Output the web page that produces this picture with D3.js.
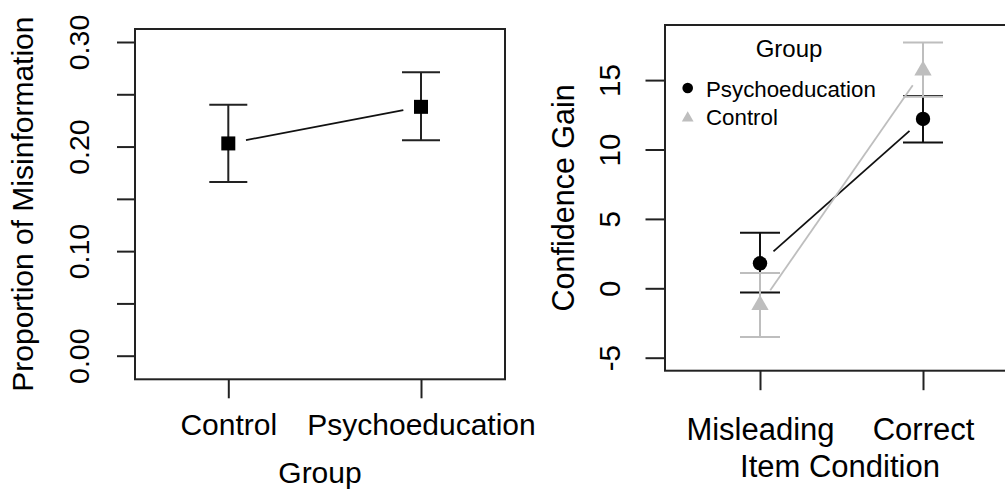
<!DOCTYPE html>
<html>
<head>
<meta charset="utf-8">
<script src="https://cdn.jsdelivr.net/npm/d3@7"></script>
<style>
  html, body { margin: 0; padding: 0; background: #fff; }
  svg { display: block; font-family: "Liberation Sans", Arial, Helvetica, sans-serif; }
  .axis path.domain { display: none; }
  .axis line { stroke: #222; stroke-width: 2; }
  .axis text { fill: #000; }
</style>
</head>
<body>
<svg id="chart" width="1005" height="489"></svg>
<script>
'use strict';

// left panel: proportion of misinformation by group
const groups = ['Control', 'Psychoeducation'];
const misinfoMean = [0.203, 0.238];
const misinfoLower = [0.166, 0.206];
const misinfoUpper = [0.240, 0.271];
const misinfoTicks = [0, 0.05, 0.10, 0.15, 0.20, 0.25, 0.30];
const misinfoTickLabels = ['0.00', '', '0.10', '', '0.20', '', '0.30'];

// right panel: confidence gain by item condition
const conditions = ['Misleading', 'Correct'];
const legendGroups = ['Psychoeducation', 'Control'];
const psychMean = [1.8, 12.2];
const psychLower = [-0.3, 10.5];
const psychUpper = [4.0, 13.85];
const controlMean = [-1.2, 15.7];
const controlLower = [-3.5, 13.8];
const controlUpper = [1.1, 17.7];
const gainTicks = [-5, 0, 5, 10, 15];

const GREY = '#bebebe';
const svg = d3.select('#chart');

function triangle(r) {
  const h = r * Math.sqrt(3) / 2;
  return `M0,${-r}L${h},${r / 2}L${-h},${r / 2}Z`;
}

// shorten a segment by `gap` px at each end (R type = "b")
function gapped(x1, y1, x2, y2, gap) {
  const dx = x2 - x1, dy = y2 - y1;
  const len = Math.sqrt(dx * dx + dy * dy);
  const ux = dx / len, uy = dy / len;
  return [x1 + ux * gap, y1 + uy * gap, x2 - ux * gap, y2 - uy * gap];
}

function errorBars(g, x, y, keys, mean, lower, upper, color, cap) {
  const data = keys.map((k, i) => ({ k, m: mean[i], lo: lower[i], hi: upper[i] }));
  const bars = g.append('g')
    .attr('stroke', color)
    .attr('stroke-width', 2);

  bars.selectAll('line.v')
    .data(data)
    .enter().append('line')
    .attr('class', 'v')
    .attr('x1', d => x(d.k))
    .attr('x2', d => x(d.k))
    .attr('y1', d => y(d.lo))
    .attr('y2', d => y(d.hi));

  bars.selectAll('line.hi')
    .data(data)
    .enter().append('line')
    .attr('class', 'hi')
    .attr('x1', d => x(d.k) - cap)
    .attr('x2', d => x(d.k) + cap)
    .attr('y1', d => y(d.hi))
    .attr('y2', d => y(d.hi));

  bars.selectAll('line.lo')
    .data(data)
    .enter().append('line')
    .attr('class', 'lo')
    .attr('x1', d => x(d.k) - cap)
    .attr('x2', d => x(d.k) + cap)
    .attr('y1', d => y(d.lo))
    .attr('y2', d => y(d.lo));

  return data;
}

function connect(g, x, y, keys, mean, color, width) {
  const c = gapped(x(keys[0]), y(mean[0]), x(keys[1]), y(mean[1]), 18);
  g.append('line')
    .attr('x1', c[0]).attr('y1', c[1])
    .attr('x2', c[2]).attr('y2', c[3])
    .attr('stroke', color)
    .attr('stroke-width', width);
}

/* ---------- left panel ---------- */
(function left() {
  const box = { left: 135, right: 505, top: 29, bottom: 379.3 };

  const x = d3.scalePoint().domain(groups).range([228.3, 421]);
  const y = d3.scaleLinear().domain([0, 0.30]).range([355.7, 42]);

  const g = svg.append('g');

  connect(g, x, y, groups, misinfoMean, '#111', 1.8);
  const data = errorBars(g, x, y, groups, misinfoMean, misinfoLower, misinfoUpper, '#222', 19);

  g.selectAll('rect.pt')
    .data(data)
    .enter().append('rect')
    .attr('class', 'pt')
    .attr('x', d => x(d.k) - 7)
    .attr('y', d => y(d.m) - 7)
    .attr('width', 14)
    .attr('height', 14)
    .attr('fill', '#000');

  g.append('rect')
    .attr('x', box.left).attr('y', box.top)
    .attr('width', box.right - box.left)
    .attr('height', box.bottom - box.top)
    .attr('fill', 'none')
    .attr('stroke', '#222')
    .attr('stroke-width', 2);

  const yAxis = g.append('g')
    .attr('class', 'axis')
    .attr('transform', `translate(${box.left},0)`)
    .call(d3.axisLeft(y).tickValues(misinfoTicks).tickSize(18)
      .tickFormat((d, i) => misinfoTickLabels[i]));
  yAxis.selectAll('text')
    .attr('transform', 'rotate(-90)')
    .attr('x', 0).attr('y', -46).attr('dy', 0)
    .attr('text-anchor', 'middle')
    .style('font-size', '28.5px');

  const xAxis = g.append('g')
    .attr('class', 'axis')
    .attr('transform', `translate(0,${box.bottom})`)
    .call(d3.axisBottom(x).tickSize(19));
  xAxis.selectAll('text')
    .attr('y', 55.7).attr('dy', 0)
    .style('font-size', '30px');

  g.append('text')
    .attr('transform', `translate(33,${(box.top + box.bottom) / 2}) rotate(-90)`)
    .attr('text-anchor', 'middle')
    .style('font-size', '30px')
    .text('Proportion of Misinformation');

  g.append('text')
    .attr('x', (box.left + box.right) / 2)
    .attr('y', 482.5)
    .attr('text-anchor', 'middle')
    .style('font-size', '30px')
    .text('Group');
})();

/* ---------- right panel ---------- */
(function right() {
  const box = { left: 665, right: 1018, top: 25, bottom: 370.7 };

  const x = d3.scalePoint().domain(conditions).range([760, 923]);
  const y = d3.scaleLinear().domain([-5, 15]).range([357.7, 80.1]);

  const g = svg.append('g');

  connect(g, x, y, conditions, psychMean, '#111', 1.8);
  const pData = errorBars(g, x, y, conditions, psychMean, psychLower, psychUpper, '#111', 20);
  g.selectAll('circle.pt')
    .data(pData)
    .enter().append('circle')
    .attr('class', 'pt')
    .attr('cx', d => x(d.k))
    .attr('cy', d => y(d.m))
    .attr('r', 7.2)
    .attr('fill', '#000');

  connect(g, x, y, conditions, controlMean, GREY, 1.8);
  const cData = errorBars(g, x, y, conditions, controlMean, controlLower, controlUpper, GREY, 20);
  g.selectAll('path.pt')
    .data(cData)
    .enter().append('path')
    .attr('class', 'pt')
    .attr('d', triangle(10))
    .attr('transform', d => `translate(${x(d.k)},${y(d.m)})`)
    .attr('fill', GREY);

  g.append('rect')
    .attr('x', box.left).attr('y', box.top)
    .attr('width', box.right - box.left)
    .attr('height', box.bottom - box.top)
    .attr('fill', 'none')
    .attr('stroke', '#222')
    .attr('stroke-width', 2);

  const yAxis = g.append('g')
    .attr('class', 'axis')
    .attr('transform', `translate(${box.left},0)`)
    .call(d3.axisLeft(y).tickValues(gainTicks).tickSize(19.5).tickFormat(d => String(d)));
  yAxis.selectAll('text')
    .attr('transform', 'rotate(-90)')
    .attr('x', 0).attr('y', -45).attr('dy', 0)
    .attr('text-anchor', 'middle')
    .style('font-size', '29.5px');

  const xAxis = g.append('g')
    .attr('class', 'axis')
    .attr('transform', `translate(0,${box.bottom})`)
    .call(d3.axisBottom(x).tickSize(19.5));
  xAxis.selectAll('text')
    .attr('y', 69.3).attr('dy', 0)
    .style('font-size', '31px');

  g.append('text')
    .attr('transform', `translate(574,${(box.top + box.bottom) / 2}) rotate(-90)`)
    .attr('text-anchor', 'middle')
    .style('font-size', '30.5px')
    .text('Confidence Gain');

  g.append('text')
    .attr('x', 840)
    .attr('y', 476.7)
    .attr('text-anchor', 'middle')
    .style('font-size', '31px')
    .text('Item Condition');

  // legend
  const legend = g.append('g').attr('class', 'legend');
  legend.append('text')
    .attr('x', 789).attr('y', 56.5)
    .attr('text-anchor', 'middle')
    .style('font-size', '24px')
    .text('Group');

  const rows = legend.selectAll('g.row')
    .data(legendGroups)
    .enter().append('g')
    .attr('class', 'row')
    .attr('transform', (d, i) => `translate(0,${i * 28})`);

  rows.append('text')
    .attr('x', 706)
    .attr('y', 96.7)
    .style('font-size', '22.3px')
    .text(d => d);

  rows.filter((d, i) => i === 0).append('circle')
    .attr('cx', 687.7).attr('cy', 88)
    .attr('r', 5.3)
    .attr('fill', '#000');

  rows.filter((d, i) => i === 1).append('path')
    .attr('d', triangle(6.8))
    .attr('transform', 'translate(687.7,90)')
    .attr('fill', GREY);
})();
</script>
</body>
</html>
